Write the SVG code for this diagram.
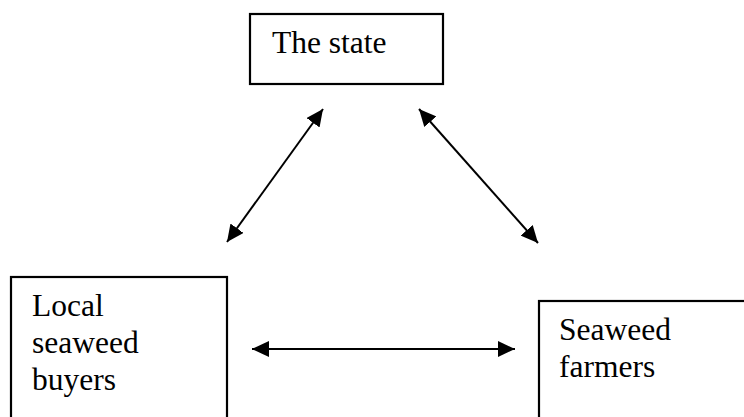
<svg xmlns="http://www.w3.org/2000/svg" width="744" height="417" viewBox="0 0 744 417">
  <defs>
    <marker id="head" viewBox="0 0 17 16" refX="17" refY="8" markerWidth="17" markerHeight="16" markerUnits="userSpaceOnUse" orient="auto-start-reverse">
      <path d="M0,0 L17,8 L0,16 Z" fill="#000"/>
    </marker>
  </defs>
  <style>
    .box { fill: #fff; stroke: #000; stroke-width: 2.2; }
    .label { font-family: "Liberation Serif", "Times New Roman", serif; font-size: 31.5px; fill: #000; }
    .link { stroke: #000; stroke-width: 2; fill: none; marker-start: url(#head); marker-end: url(#head); }
  </style>
  <rect width="744" height="417" fill="#fff"/>

  <g id="connectors">
    <line class="link" x1="323" y1="109" x2="227" y2="242"/>
    <line class="link" x1="419" y1="109" x2="538" y2="243"/>
    <line class="link" x1="252" y1="349" x2="515" y2="349"/>
  </g>

  <g id="state">
    <rect class="box" x="250" y="14" width="193" height="70"/>
    <text class="label" x="272" y="53">The state</text>
  </g>

  <g id="buyers">
    <rect class="box" x="11" y="277" width="216" height="160"/>
    <text class="label" x="32" y="316">Local</text>
    <text class="label" x="32" y="353">seaweed</text>
    <text class="label" x="32" y="390">buyers</text>
  </g>

  <g id="farmers">
    <rect class="box" x="539" y="301" width="230" height="140"/>
    <text class="label" x="559" y="340">Seaweed</text>
    <text class="label" x="559" y="377">farmers</text>
  </g>
</svg>
